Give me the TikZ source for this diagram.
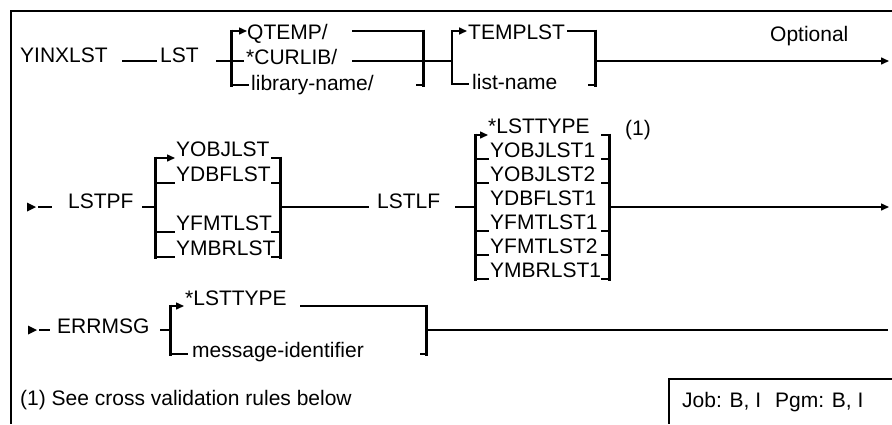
\documentclass[tikz,border=0pt]{standalone}
\usepackage{fontspec}
\setmainfont{Liberation Sans}
\usetikzlibrary{arrows.meta}

\begin{document}
\begin{tikzpicture}[
  x=1pt, y=-1pt,
  lbl/.style={anchor=west, inner sep=0pt, text height=15pt, text depth=4pt, font=\fontsize{21}{21}\selectfont},
  rail/.style={line width=1.5pt},
  bar/.style={line width=3pt},
  thinbar/.style={line width=1.6pt},
  tip/.style={-{Triangle[length=8pt,width=7pt]}},
  >=Stealth
]
\useasboundingbox (0,0) rectangle (892,424);

% Frame
\draw[line width=2.2pt] (892,11) -- (11,11) -- (11,424);

% Row 1: YINXLST LST
\node[lbl] (yinx) at (20,57) {YINXLST};
\node[lbl] (lst) at (160,57) {LST};
\node[lbl] (qtemp) at (247,34) {QTEMP/};
\node[lbl] (curlib) at (246,59) {*CURLIB/};
\node[lbl] (libname) at (251,85) {library-name/};
\node[lbl] (templst) at (468,34) {TEMPLST};
\node[lbl] (lstname) at (472,84) {list-name};
\node[lbl] (optional) at (770,36) {Optional};

\coordinate (b1top) at (231,31);
\coordinate (b1bot) at (231,85);
\coordinate (b2top) at (423,31);
\coordinate (b2bot) at (423,85);
\draw[rail] (122,61) -- (157,61);
\draw[rail] (216,61) -- (244,61);
\draw[bar] (231,29.5) -- (231,86.5);
\draw[rail,tip] (b1top) -- (247,31);
\draw[rail] (b1bot) -- (249,85);
\draw[rail] (352,31) -- (b2top);
\draw[rail] (352,61) -- (452,61);
\draw[bar] (423,29.5) -- (423,86.5);
\draw[rail] (416,85) -- (b2bot);
% Row 1: TEMPLST choice
\draw[thinbar,tip] (452,61) |- (467,31);
\draw[thinbar] (452,61) |- (469,84);
\draw[rail] (567,31) -- (595,31);
\draw[bar] (595,29.5) -- (595,86.5);
\draw[rail] (588,85) -- (595,85);
\draw[rail,tip] (595,61) -- (889,61);

% Row 2: LSTPF LSTLF
\fill (27,202.5) -- (36,207) -- (27,211.5) -- cycle;
\draw[rail] (38,207) -- (52,207);
\node[lbl] (lstpf) at (68,203) {LSTPF};
\node[lbl] (yobj) at (176,151) {YOBJLST};
\node[lbl] (ydbf) at (176,176) {YDBFLST};
\node[lbl] (yfmt) at (176,225) {YFMTLST};
\node[lbl] (ymbr) at (176,250) {YMBRLST};
\node[lbl] (lstlf) at (377,203) {LSTLF};

\draw[rail] (142,207) -- (155,207);
\draw[bar] (155,156.5) -- (155,258.5);
\draw[rail,tip] (155,158) -- (175,158);
\draw[rail] (155,183) -- (175,183);
\draw[rail] (155,232) -- (175,232);
\draw[rail] (155,257) -- (175,257);
\draw[bar] (280,156.5) -- (280,258.5);
\draw[rail] (271,158) -- (280,158);
\draw[rail] (271,183) -- (280,183);
\draw[rail] (271,232) -- (280,232);
\draw[rail] (271,257) -- (280,257);
\draw[rail] (280,207) -- (369,207);

% Row 2: list type choice
\node[lbl] (lsttype) at (488,128) {*LSTTYPE};
\node[lbl] (yobja) at (490,152) {YOBJLST1};
\node[lbl] (yobjb) at (490,176) {YOBJLST2};
\node[lbl] (ydbfa) at (490,200) {YDBFLST1};
\node[lbl] (yfmta) at (490,224) {YFMTLST1};
\node[lbl] (yfmtb) at (490,248) {YFMTLST2};
\node[lbl] (ymbra) at (490,272) {YMBRLST1};
\node[lbl] (note) at (625,130) {(1)};

\draw[rail] (455,207) -- (475,207);
\draw[bar] (475,133.5) -- (475,280.5);
\draw[rail,tip] (475,135) -- (488,135);
\draw[rail] (475,159) -- (489,159);
\draw[rail] (475,183) -- (489,183);
\draw[rail] (475,231) -- (489,231);
\draw[rail] (475,255) -- (489,255);
\draw[rail] (475,279) -- (489,279);
\draw[bar] (609,133.5) -- (609,280.5);
\draw[rail] (601,135) -- (609,135);
\draw[rail] (601,159) -- (609,159);
\draw[rail] (601,183) -- (609,183);
\draw[rail] (601,231) -- (609,231);
\draw[rail] (601,255) -- (609,255);
\draw[rail] (601,279) -- (609,279);
\draw[rail,tip] (609,207) -- (889,207);

% Row 3: ERRMSG
\fill (28,325.5) -- (37,330) -- (28,334.5) -- cycle;
\draw[rail] (39,330) -- (50,330);
\node[lbl] (errmsg) at (57,328) {ERRMSG};
\node[lbl] (errtype) at (185,300) {*LSTTYPE};
\node[lbl] (msgid) at (192,352) {message-identifier};

\draw[rail] (160,330) -- (170,330);
\draw[bar] (170,304.5) -- (170,355.5);
\draw[rail,tip] (170,306) -- (184,306);
\draw[rail] (170,354) -- (188,354);
\draw[rail] (300,306) -- (426,306);
\draw[bar] (426,304.5) -- (426,355.5);
\draw[rail] (420,354) -- (426,354);
\draw[rail] (426,330) -- (888,330);

% Footnote and environment box
\node[lbl] (footnote) at (20,400) {(1) See cross validation rules below};
\draw[line width=1.8pt] (892,379) -- (669,379) -- (669,424);
\node[lbl] (envbox) at (682,402) {Job: B, I\hspace{14pt}Pgm: B, I};
\end{tikzpicture}
\end{document}
